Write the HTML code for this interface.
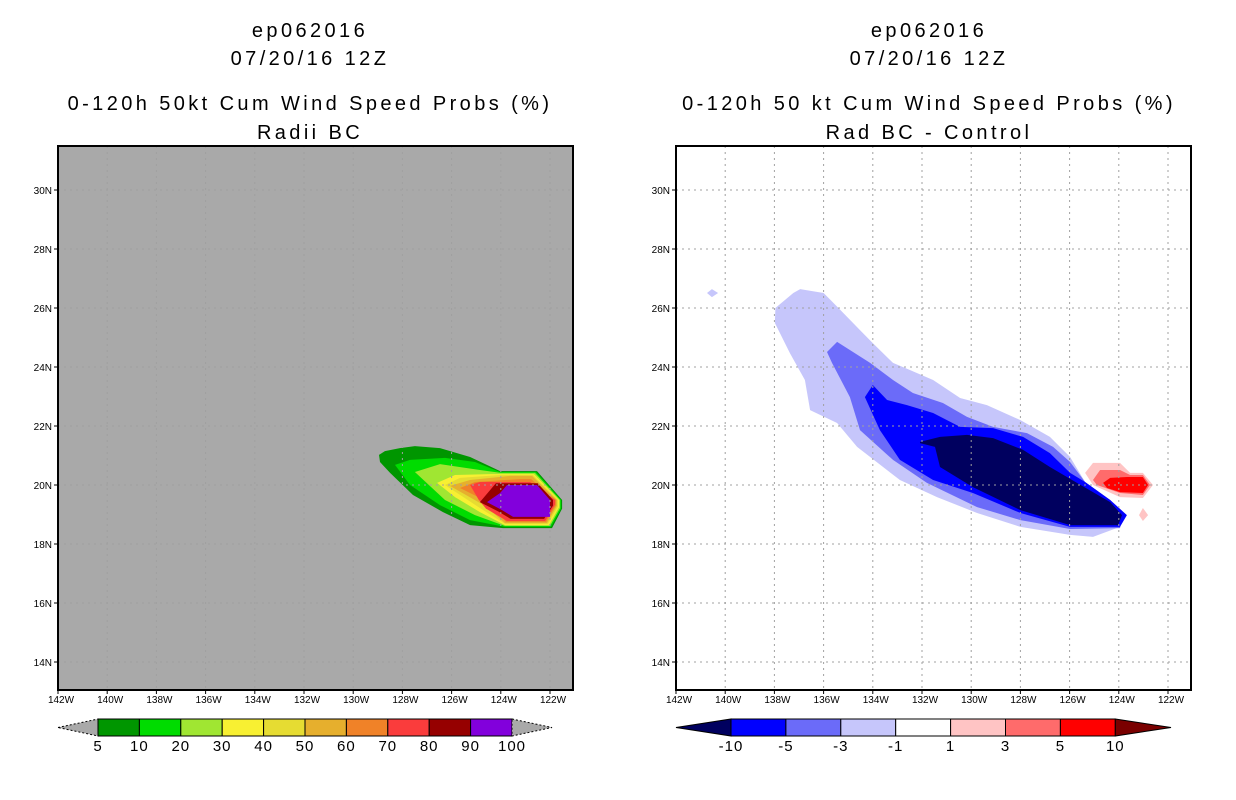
<!DOCTYPE html>
<html><head><meta charset="utf-8"><style>
html,body{margin:0;padding:0;background:#fff;}
svg{display:block;font-family:"Liberation Sans",sans-serif;}
.t{font-size:20px;text-anchor:middle;fill:#000;letter-spacing:3.4px;}
.tk{font-size:10px;fill:#000;}
.cb{font-size:15px;text-anchor:middle;fill:#000;letter-spacing:1px;}
</style></head><body>
<svg id="s" width="1236" height="800" viewBox="0 0 1236 800">
<g>
<text class="t" x="310" y="37">ep062016</text>
<text class="t" x="310" y="65">07/20/16 12Z</text>
<text class="t" x="310" y="110">0-120h 50kt Cum Wind Speed Probs (%)</text>
<text class="t" x="310" y="139">Radii BC</text>
</g>
<g>
<text class="t" x="929" y="37">ep062016</text>
<text class="t" x="929" y="65">07/20/16 12Z</text>
<text class="t" x="929" y="110">0-120h 50 kt Cum Wind Speed Probs (%)</text>
<text class="t" x="929" y="139">Rad BC - Control</text>
</g>
</svg>
<script>
// Left panel: cumulative probability contours [lon, lat]
const leftLevels=[5,10,20,30,40,50,60,70,80,90];
const leftColors=["#009600","#00dc00","#a0e632","#f8f032","#e6dc32","#e6af2d","#f08228","#fa3c3c","#960000","#8200dc"];
const leftPolys=[
[[-128.95,21.02],[-128.71,21.15],[-128.10,21.25],[-127.49,21.32],[-126.47,21.25],[-125.25,20.95],[-124.03,20.47],[-122.53,20.47],[-121.51,19.49],[-121.51,19.2],[-121.92,18.54],[-123.91,18.54],[-125.25,18.64],[-126.35,19.08],[-127.57,19.66],[-128.50,20.41],[-128.91,20.78]],
[[-128.30,20.68],[-127.69,20.85],[-126.27,20.92],[-125.05,20.78],[-124.03,20.44],[-122.57,20.44],[-121.55,19.49],[-121.55,19.2],[-121.96,18.58],[-123.83,18.58],[-125.25,18.81],[-126.47,19.32],[-127.69,20.0]],
[[-127.49,20.44],[-126.47,20.71],[-124.85,20.51],[-124.0,20.41],[-122.61,20.41],[-121.59,19.49],[-121.59,19.22],[-122.0,18.61],[-123.83,18.61],[-125.05,18.98],[-126.27,19.49]],
[[-126.59,20.07],[-125.86,20.34],[-124.44,20.37],[-122.65,20.37],[-121.63,19.49],[-121.63,19.25],[-122.04,18.64],[-123.83,18.64],[-124.85,19.08],[-125.86,19.59]],
[[-126.27,20.0],[-125.66,20.24],[-124.03,20.34],[-122.69,20.34],[-121.68,19.49],[-121.68,19.27],[-122.08,18.68],[-123.83,18.68],[-124.85,19.22]],
[[-126.07,19.97],[-125.25,20.17],[-123.63,20.31],[-122.73,20.31],[-121.72,19.49],[-121.72,19.3],[-122.12,18.71],[-123.83,18.71],[-124.64,19.29]],
[[-125.66,19.90],[-125.05,20.10],[-123.22,20.2],[-122.77,20.2],[-121.76,19.49],[-121.76,19.32],[-122.16,18.75],[-123.79,18.75],[-124.44,19.39]],
[[-125.25,20.0],[-124.85,20.1],[-122.81,20.1],[-121.80,19.49],[-121.80,19.34],[-122.20,18.78],[-123.75,18.78],[-124.6,19.2],[-124.9,19.5]],
[[-124.85,19.42],[-124.2,20.06],[-122.5,20.06],[-121.88,19.49],[-121.88,19.3],[-122.24,18.85],[-123.6,18.85],[-124.1,19.1]],
[[-124.56,19.42],[-124.03,19.73],[-123.75,20.0],[-122.53,20.0],[-122.0,19.49],[-122.0,18.92],[-123.50,18.92],[-123.95,19.15]]
];
// Right panel: difference contours
const rightLevels=[-1,-3,-5,-10,1,3,5,-1];
const rightColors=["#c6c6fb","#6b6bf9","#0000ff","#00005f","#ffc4c4","#ff6b6b","#ff0000","#c6c6fb"];
const rightPolys=[
[[-137.96,26.0],[-137.23,26.51],[-136.95,26.64],[-136.0,26.51],[-135.43,26.03],[-134.52,25.25],[-134.0,24.81],[-133.18,24.14],[-132.49,23.90],[-131.55,23.56],[-130.45,22.95],[-129.36,22.71],[-128.0,22.20],[-126.80,21.63],[-125.98,20.95],[-125.37,20.10],[-125.05,19.83],[-124.35,19.49],[-123.83,19.05],[-123.95,18.58],[-125.05,18.24],[-125.98,18.31],[-128.0,18.58],[-129.76,19.05],[-131.39,19.59],[-132.9,20.17],[-134.64,21.29],[-135.45,22.10],[-136.55,22.54],[-136.76,23.56],[-137.37,24.47],[-137.98,25.49]],
[[-135.86,24.51],[-135.45,24.85],[-134.11,24.14],[-133.18,23.56],[-132.37,23.12],[-131.15,22.78],[-130.17,22.31],[-129.11,21.97],[-127.73,21.76],[-126.67,21.29],[-125.98,20.78],[-125.37,20.10],[-124.35,19.49],[-123.83,19.05],[-123.95,18.54],[-125.98,18.51],[-128.0,18.81],[-129.76,19.25],[-131.8,20.07],[-133.18,20.85],[-134.52,21.86],[-134.93,22.98],[-135.66,24.14]],
[[-134.32,22.98],[-134.0,23.39],[-133.42,22.88],[-132.61,22.71],[-131.55,22.44],[-130.45,21.97],[-129.11,21.93],[-127.89,21.63],[-126.80,21.08],[-125.98,20.41],[-125.37,20.10],[-124.35,19.49],[-123.67,18.98],[-123.95,18.58],[-125.98,18.58],[-128.0,19.05],[-129.93,19.73],[-131.55,20.17],[-132.9,20.85],[-133.71,21.86]],
[[-132.08,21.46],[-131.27,21.63],[-130.17,21.70],[-129.11,21.59],[-127.89,21.19],[-126.80,20.61],[-125.70,20.07],[-124.35,19.42],[-123.87,18.98],[-124.03,18.64],[-125.98,18.64],[-128.0,19.15],[-129.93,19.93],[-131.27,20.61],[-131.47,21.29],[-132.08,21.42]],
[[-125.37,20.41],[-125.05,20.75],[-123.95,20.75],[-123.54,20.41],[-123.02,20.41],[-122.61,20.0],[-123.02,19.56],[-123.95,19.59],[-125.05,20.0]],
[[-125.05,20.17],[-124.76,20.51],[-123.95,20.51],[-123.54,20.34],[-123.02,20.34],[-122.73,20.0],[-123.02,19.66],[-123.95,19.73],[-124.89,20.0]],
[[-124.64,20.07],[-124.35,20.24],[-123.67,20.27],[-123.02,20.27],[-122.81,20.0],[-123.02,19.73],[-123.95,19.76],[-124.48,19.9]],
[[-140.74,26.51],[-140.54,26.64],[-140.29,26.51],[-140.54,26.37]]
];
const extraPink=[[-123.02,19.22],[-122.81,18.98],[-123.02,18.78],[-123.18,18.98]];
const lonTicks=[-142,-140,-138,-136,-134,-132,-130,-128,-126,-124,-122];
const latTicks=[14,16,18,20,22,24,26,28,30];
const leftCbLabels=["5","10","20","30","40","50","60","70","80","90","100"];
const rightCbLabels=["-10","-5","-3","-1","1","3","5","10"];
const rightCbColors=["#0000ff","#6b6bf9","#c6c6fb","#ffffff","#ffc4c4","#ff6b6b","#ff0000"];

const NS="http://www.w3.org/2000/svg";
const svg=document.getElementById('s');
function mk(tag,attrs,parent){const e=document.createElementNS(NS,tag);for(const k in attrs)e.setAttribute(k,attrs[k]);(parent||svg).appendChild(e);return e;}
const TOP=146,BOT=690,W=515;
function xs(x0){return lon=>x0+(lon+142)*24.6;}
function ys(lat){return 485-(lat-20)*29.5;}
function pts(poly,xf){return poly.map(p=>xf(p[0]).toFixed(1)+","+ys(p[1]).toFixed(1)).join(" ");}

function panel(x0,bg,name){
  const xf=xs(x0);
  const g=mk('g',{});
  
  
  const cp=mk('clipPath',{id:'c'+x0},g);mk('rect',{x:x0,y:TOP,width:W,height:BOT-TOP},cp);
  const bgr=mk('rect',{x:x0,y:TOP,width:W,height:BOT-TOP,fill:bg},g);
  
  
  const cg=mk('g',{'clip-path':'url(#c'+x0+')'},g);
  return {g,cg,xf};
}
function gridAndAxes(P,x0,gridColor){
  const gg=mk('g',{stroke:gridColor,'stroke-width':1,'stroke-dasharray':'2,4',fill:'none'},P.cg);
  
  
  lonTicks.forEach(l=>{const x=P.xf(l);mk('line',{x1:x,x2:x,y1:TOP,y2:BOT},gg);});
  latTicks.forEach(l=>{const y=ys(l);mk('line',{x1:x0,x2:x0+W,y1:y,y2:y},gg);});
  const fr=mk('rect',{x:x0,y:TOP,width:W,height:BOT-TOP,fill:'none',stroke:'#000','stroke-width':2},P.g);
  
  
  lonTicks.forEach(l=>{const x=P.xf(l);mk('line',{x1:x,x2:x,y1:BOT,y2:BOT+4,stroke:'#000'},P.g);
    const t=mk('text',{x:x+3,y:BOT+13,'text-anchor':'middle',class:'tk'},P.g);t.textContent=(-l)+"W";
    
    });
  latTicks.forEach(l=>{const y=ys(l);mk('line',{x1:x0-4,x2:x0,y1:y,y2:y,stroke:'#000'},P.g);
    const t=mk('text',{x:x0-6,y:y+4,'text-anchor':'end',class:'tk'},P.g);t.textContent=l+"N";
    
    });
}
// Left
const L=panel(58,'#a9a9a9','left-map-panel');
leftPolys.forEach((p,i)=>{const e=mk('polygon',{points:pts(p,L.xf),fill:leftColors[i]},L.cg);
  
  });
gridAndAxes(L,58,'#a0a0a0');
// Right
const R=panel(676,'#ffffff','right-map-panel');
rightPolys.forEach((p,i)=>{const e=mk('polygon',{points:pts(p,R.xf),fill:rightColors[i]},R.cg);
  
  });
const ep=mk('polygon',{points:pts(extraPink,R.xf),fill:'#ffc4c4'},R.cg);


gridAndAxes(R,676,'#a0a0a0');

// Colorbars
function colorbar(x0,triW,x1,segW,colors,labels,triL,triR,name){
  const g=mk('g',{});
  
  
  const y0=719,y1=736,ym=727.5;
  const bx0=x0+triW, n=colors.length;
  mk('polygon',{points:`${x0},${ym} ${bx0},${y0} ${bx0},${y1}`,fill:triL,stroke:'#000','stroke-width':1,'stroke-dasharray':triL=='#a9a9a9'?'2,2':''},g);
  colors.forEach((c,i)=>{const r=mk('rect',{x:bx0+i*segW,y:y0,width:segW,height:y1-y0,fill:c,stroke:'#000','stroke-width':1},g);
    
    });
  const bx1=bx0+n*segW;
  mk('polygon',{points:`${bx1},${y0} ${x1},${ym} ${bx1},${y1}`,fill:triR,stroke:'#000','stroke-width':1,'stroke-dasharray':triR=='#a9a9a9'?'2,2':''},g);
  labels.forEach((l,i)=>{const t=mk('text',{x:bx0+i*segW,y:751,class:'cb'},g);t.textContent=l;
    
    });
}
colorbar(58,40,552,41.4,leftColors,leftCbLabels,'#a9a9a9','#a9a9a9','left-colorbar');
colorbar(676,55,1171,54.9,rightCbColors,rightCbLabels,'#00005f','#7a0000','right-colorbar');
</script>
</body></html>
